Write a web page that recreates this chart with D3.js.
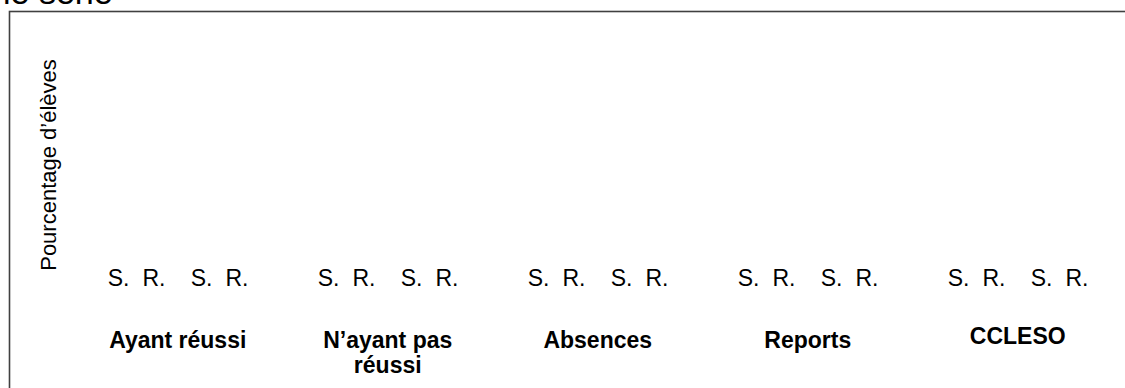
<!DOCTYPE html>
<html>
<head>
<meta charset="utf-8">
<script src="https://cdn.jsdelivr.net/npm/d3@7"></script>
<style>
  body { margin: 0; background: #fff; }
  svg { display: block; font-family: "Liberation Sans", Arial, sans-serif; }
</style>
</head>
<body>
<div id="chart"></div>
<script>
// categories on the x axis, two sub-groups each, with an S. and an R. bar
var categories = ["Ayant réussi", "N’ayant pas réussi", "Absences", "Reports", "CCLESO"];
var periods = ["p1", "p2"];
var barLabels = ["S.", "R."];

// no bar is drawn in the reference, so every value is empty
var valuesP1S = [null, null, null, null, null];
var valuesP1R = [null, null, null, null, null];
var valuesP2S = [null, null, null, null, null];
var valuesP2R = [null, null, null, null, null];

var yDomain = [0, 100];
var titleText = "le série";
var yLabel = "Pourcentage d’élèves";

(function(){
    var width = 1125,
        height = 388;

    var svg = d3.select("#chart")
        .append("svg")
        .attr("width", width)
        .attr("height", height);

    // title, mostly cut off at the top
    svg.append("text")
        .attr("x", 3)
        .attr("y", 4)
        .attr("font-size", 34)
        .attr("fill", "#000")
        .text(titleText);

    // frame
    svg.append("rect")
        .attr("x", 9.5)
        .attr("y", 11.5)
        .attr("width", 1300)
        .attr("height", 600)
        .attr("fill", "none")
        .attr("stroke", "#404040")
        .attr("stroke-width", 1.6);

    var x0 = d3.scaleBand().domain(categories).range([72.75, 1122.75]);
    var x1 = d3.scaleBand().domain(periods).range([0, x0.bandwidth()])
        .paddingInner(0.145).paddingOuter(0.3375);
    var x2 = d3.scaleBand().domain(barLabels).range([0, x1.bandwidth()]);
    var y = d3.scaleLinear().domain(yDomain).range([262, 22]);

    var series = {
        "p1": { "S.": valuesP1S, "R.": valuesP1R },
        "p2": { "S.": valuesP2S, "R.": valuesP2R }
    };

    var bars = [];
    categories.forEach(function(c, i){
        periods.forEach(function(p){
            barLabels.forEach(function(b){
                bars.push({ cat: c, period: p, bar: b, value: series[p][b][i] });
            });
        });
    });

    function barX(d){ return x0(d.cat) + x1(d.period) + x2(d.bar); }

    svg.selectAll(".bar")
        .data(bars.filter(function(d){ return d.value != null; }))
        .enter().append("rect")
        .attr("class", "bar")
        .attr("x", function(d){ return barX(d) + x2.bandwidth() * 0.15; })
        .attr("width", x2.bandwidth() * 0.7)
        .attr("y", function(d){ return y(d.value); })
        .attr("height", function(d){ return y(0) - y(d.value); })
        .attr("fill", "#808080");

    // S. / R. tick labels
    svg.selectAll(".tick-label")
        .data(bars)
        .enter().append("text")
        .attr("class", "tick-label")
        .attr("x", function(d){ return barX(d) + x2.bandwidth() / 2; })
        .attr("y", 286)
        .attr("text-anchor", "middle")
        .attr("font-size", 23)
        .attr("fill", "#000")
        .text(function(d){ return d.bar; });

    // category labels, wrapped
    var cats = svg.selectAll(".cat-label")
        .data(categories)
        .enter().append("text")
        .attr("class", "cat-label")
        .attr("x", function(d){ return x0(d) + x0.bandwidth() / 2; })
        .attr("y", function(d){ return d === "CCLESO" ? 344 : 348; })
        .attr("text-anchor", "middle")
        .attr("font-size", 23)
        .attr("font-weight", "bold")
        .attr("fill", "#000");

    cats.each(function(d){
        var text = d3.select(this),
            words = d.split(" "),
            line = [],
            lineNo = 0,
            cx = text.attr("x"),
            tspan = text.append("tspan").attr("x", cx);
        words.forEach(function(w){
            line.push(w);
            tspan.text(line.join(" "));
            if (tspan.node().getComputedTextLength() > 160 && line.length > 1) {
                line.pop();
                tspan.text(line.join(" "));
                line = [w];
                lineNo++;
                tspan = text.append("tspan").attr("x", cx).attr("dy", 25).text(w);
            }
        });
    });

    // y axis title
    svg.append("text")
        .attr("transform", "translate(56,165) rotate(-90)")
        .attr("text-anchor", "middle")
        .attr("font-size", 22)
        .attr("fill", "#000")
        .text(yLabel);
})();
</script>
</body>
</html>
